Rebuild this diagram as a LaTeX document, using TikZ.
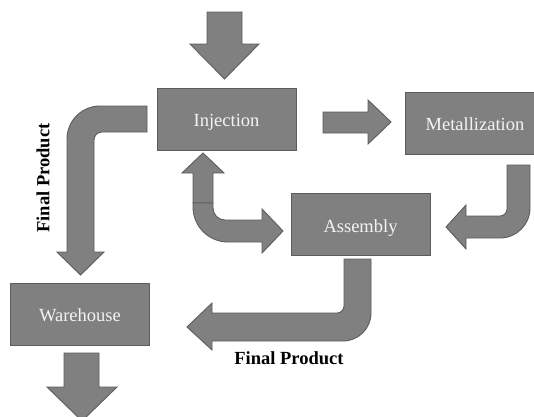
\documentclass[tikz,border=0pt]{standalone}
\usepackage{fontspec}
\setmainfont{Liberation Serif}
\definecolor{blockfill}{HTML}{808080}
\definecolor{blockedge}{HTML}{5C5C5C}
\definecolor{blocktext}{HTML}{F4F4F4}
\begin{document}
\begin{tikzpicture}[x=1pt,y=-1pt,
  stage/.style={draw=blockedge, fill=blockfill, line width=1pt,
    minimum width=139pt, minimum height=62pt, inner sep=0pt,
    text height=19pt, text depth=4pt,
    text=blocktext, font=\fontsize{18.5}{22}\selectfont},
  blockarrow/.style={draw=blockedge, fill=blockfill, line width=0.9pt, line join=miter},
  caption/.style={font=\fontsize{18.5}{22}\selectfont\bfseries, text=black, inner sep=0pt}]
\useasboundingbox (0,0) rectangle (534,416);

% process stages
\node[stage] (inj) at (226.5,119) {Injection};
\node[stage] (met) at (475,123) {Metallization};
\node[stage] (asm) at (360.5,224.5) {Assembly};
\node[stage] (wh)  at (80,314) {Warehouse};

% incoming material
\draw[blockarrow] (207,12) -- (242,12) -- (242,44) -- (259,44) -- (224.5,79)
  -- (190,44) -- (207,44) -- cycle;

% injection to metallization
\draw[blockarrow] (323,112) -- (368,112) -- (368,100) -- (391,122)
  -- (368,144) -- (368,133) -- (323,133) -- cycle;

% injection to warehouse (final product)
\draw[blockarrow] (147,106) -- (100,106) arc[start angle=270, end angle=180, radius=33]
  -- (67,252) -- (57,252) -- (80.5,275) -- (104,252) -- (94,252)
  -- (94,140) arc[start angle=180, end angle=270, radius=8] -- (147,132) -- cycle;

% metallization to assembly
\draw[blockarrow] (507,165) -- (530,165) -- (530,208)
  arc[start angle=0, end angle=90, radius=30] -- (466,238) -- (466,249)
  -- (446,227) -- (466,205) -- (466,216) -- (500,216)
  arc[start angle=90, end angle=0, radius=7] -- cycle;

% assembly back to injection
\draw[blockarrow] (193,203) -- (193,173) -- (182,173) -- (203,153) -- (224,173)
  -- (213,173) -- (213,203) -- cycle;
% injection to assembly
\draw[blockarrow] (193,203) -- (193,207) arc[start angle=180, end angle=90, radius=35]
  -- (262,242) -- (262,253) -- (283,231) -- (262,209) -- (262,220) -- (225,220)
  arc[start angle=90, end angle=180, radius=12] -- (213,203) -- cycle;

% assembly to warehouse (final product)
\draw[blockarrow] (344,259) -- (371,259) -- (371,313)
  arc[start angle=0, end angle=90, radius=28] -- (212,341) -- (212,350)
  -- (187,327) -- (212,303) -- (212,313) -- (337,313)
  arc[start angle=90, end angle=0, radius=7] -- cycle;

% outgoing goods
\draw[blockarrow] (64,353) -- (99,353) -- (99,387) -- (117,387) -- (82,421)
  -- (47,387) -- (64,387) -- cycle;

% labels
\node[caption, rotate=90] (fp1) at (43,178) {Final Product};
\node[caption] (fp2) at (289,358) {Final Product};
\end{tikzpicture}
\end{document}
